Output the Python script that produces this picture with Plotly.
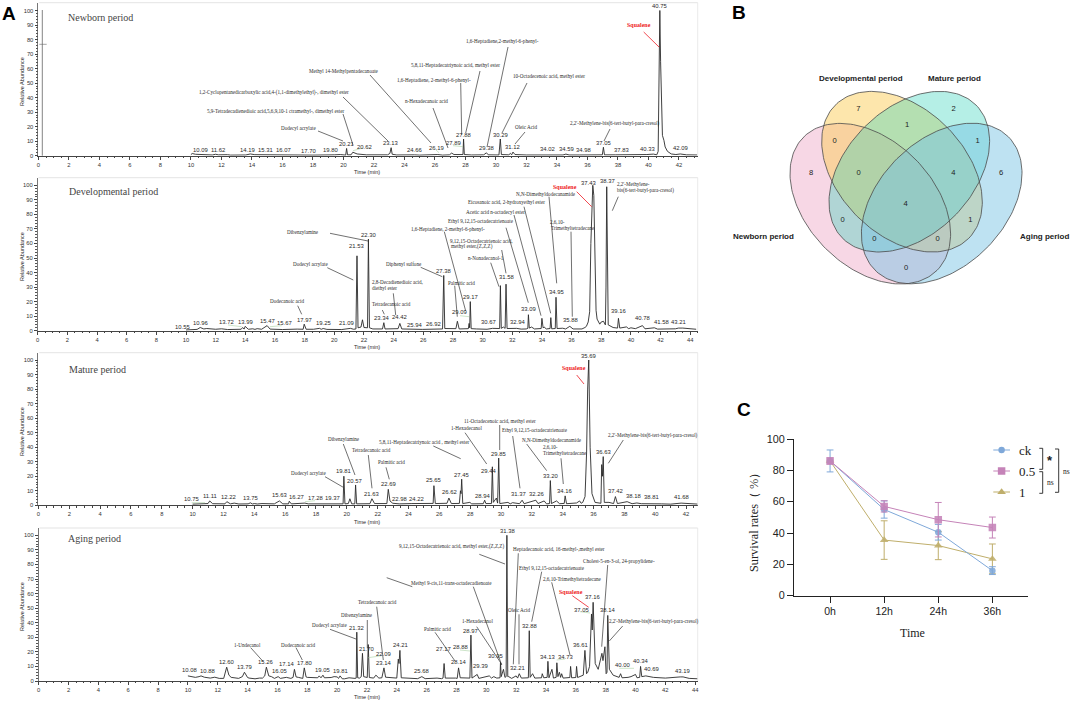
import numpy as np
import plotly.graph_objects as go

W, H = 1072, 704

# ---------- A: chromatograms (retention time, relative abundance) ----------
newborn_trace = [(10,.8),(10.09,1.5),(10.3,1),(10.8,.6),(11.4,.5),(11.62,1),(11.8,.6),(12.4,.7),(12.6,.4),(13.6,.5),(13.9,1.2),
 (14.19,.7),(14.8,.6),(15.1,.8),(15.31,1),(15.5,.5),(16.07,.7),(16.3,.4),(17.7,.6),(18,.4),(19.4,.6),(19.8,.8),(20.15,.4),(20.21,5),
 (20.27,.6),(20.5,.6),(20.62,2.4),(20.9,1.2),(21.5,.6),(22.9,.6),(23.05,1.6),(23.13,5.5),(23.2,1),(23.5,.5),(24.66,.6),(25,.4),(26.19,.8),
 (26.5,.4),(26.95,.6),(27.1,1.8),(27.25,.8),(27.8,.5),(27.84,.8),(27.88,11.5),(27.93,.8),(28.4,.5),(29.2,.6),(29.38,2),(29.5,.6),(30.2,.5),
 (30.29,11.5),(30.36,.8),(30.85,.6),(30.95,1.6),(31.03,.6),(31.12,2.5),(31.25,.8),(32,.5),(33,.5),(34.02,.7),(34.4,.5),(34.59,1.1),(34.8,.5),
 (35.5,.5),(36.98,.6),(37.05,5.8),(37.12,.6),(37.83,.6),(39,.5),(39.9,.8),(40.33,1.1),(40.55,.6),(40.64,3),(40.7,60),(40.75,100),(40.8,64.7),
 (40.85,35),(40.92,14),(41.02,10.5),(41.1,6),(41.25,3),(41.5,1.2),(41.8,.8),(42.09,1.2),(42.5,.6),(43.2,.5)]

developmental_trace = [(10,.5),(10.55,.8),(10.75,.9),(10.96,2.2),(11.2,1.2),(11.4,1.5),(12,1),(12.4,1.3),(12.8,.8),(13.72,1),(13.82,2.2),(13.92,1.1),
 (13.99,3),(14.2,1),(14.5,1.3),(14.65,.9),(14.8,1.4),(15.1,1),(15.47,3.5),(15.67,1.1),(16.5,.8),(17.5,1.1),(17.9,1),(17.97,4.5),(18.1,1),(18.6,1),
 (19,1.6),(19.12,1),(19.25,1.5),(19.5,.9),(20.5,.8),(21.09,1.6),(21.3,1),(21.46,1.2),(21.53,51.5),(21.6,2),(21.8,2.5),(21.9,7.5),(22,2.2),(22.24,2),
 (22.3,63),(22.37,2),(22.6,1.2),(23.25,1.2),(23.34,5.5),(23.42,1.2),(24.3,1.4),(24.42,5),(24.55,1.2),(25.94,.9),(26.92,.9),(27.3,1.2),(27.38,38),
 (27.45,1.5),(28.2,1.4),(28.3,6.5),(28.42,1.2),(29.04,1.4),(29.09,5),(29.13,2),(29.17,20),(29.23,1.4),(29.6,1.2),(30.3,1),(30.67,1.6),(31,1.2),(31.15,1.5),
 (31.2,31),(31.26,1.6),(31.4,2.5),(31.52,1.6),(31.58,32),(31.65,1.5),(32.3,1.6),(32.6,1.1),(32.94,1.2),(33.05,1.6),(33.09,11),(33.15,1.8),(33.3,2.5),(33.5,1.2),
 (33.95,1.5),(34,8.5),(34.08,2),(34.15,2.5),(34.3,1.2),(34.55,1.5),(34.6,9),(34.66,1.3),(34.9,1.5),(34.95,23),(35.02,1.5),(35.4,1.7),(35.6,1.2),(35.88,3),(36.1,1.2),
 (36.7,1.2),(36.9,2.2),(37,3),(37.12,6),(37.22,13),(37.3,60),(37.37,95),(37.43,100),(37.5,93),(37.57,45),(37.65,14),(37.72,8),(37.9,4.5),(38,6),(38.15,6.5),(38.28,4),
 (38.32,30),(38.37,99),(38.42,30),(38.47,4),(38.8,2.2),(39.1,1.8),(39.16,8.5),(39.25,1.8),(39.7,2.6),(39.85,1.4),(40,2),(40.3,1.4),(40.78,3.5),(40.95,1.3),(41.58,2),
 (41.8,1.1),(43,1.3),(43.21,1.8),(43.5,1.8),(44.4,1)]

mature_trace = [(10,.8),(10.75,.9),(11,1.2),(11.11,3),(11.3,1.1),(12.1,1),(12.22,2.5),(12.45,1),(12.7,1.5),(13,.9),(13.6,1),(13.75,1.7),(13.88,.9),(14,1.2),(14.2,.9),
 (14.5,1.2),(15.3,1),(15.63,3),(15.85,1),(16.22,1),(16.27,2.8),(16.4,1),(17.28,1.5),(17.5,1),(19.37,1.2),(19.7,.9),(19.76,1),(19.81,20),(19.88,1),(20.1,1.2),(20.2,4.5),(20.32,1),
 (20.52,1),(20.57,14),(20.64,1),(21.5,1.1),(21.63,4.5),(21.8,1.2),(22.6,1.2),(22.69,11),(22.8,3),(22.98,1.4),(23.4,1),(24.22,1.2),(25.5,1),(25.6,1.3),(25.65,13.5),(25.74,1.2),
 (26.5,1.4),(26.62,5),(26.78,1.2),(27.3,1.3),(27.37,10),(27.41,8),(27.45,18),(27.52,1.2),(27.98,2),(28.1,1),(28.85,1.1),(28.94,3.5),(29.02,1.2),(29.38,1.2),(29.44,26.5),(29.5,2),
 (29.7,5),(29.78,1.5),(29.85,32.5),(29.92,1.2),(30.45,2),(30.6,1),(30.75,1.8),(30.9,1.5),(31.2,1.1),(31.37,3.5),(31.5,1.1),(32.26,3.5),(32.4,1.2),(32.8,3),(32.95,1),(33.15,1.2),
 (33.2,17),(33.27,1.2),(33.6,3),(33.8,1.1),(34,1.5),(34.1,1.3),(34.16,6.5),(34.25,1.1),(34.9,1.6),(35.1,3),(35.2,1.4),(35.3,2),(35.45,6),(35.55,36),(35.62,80),(35.69,100),(35.78,40),
 (35.9,8),(36.1,2),(36.48,1.4),(36.53,28),(36.58,20),(36.63,33.5),(36.7,2),(37,2),(37.3,1.2),(37.42,6),(37.55,1.2),(38.18,2.5),(38.5,1.1),(38.81,1.6),(39.1,1.1),(40.4,1),(41,.8),(41.68,1.5),(42.8,.8)]

aging_trace = [(10,3.5),(10.3,2.8),(10.5,2.5),(10.75,3),(10.88,3.5),(11.1,2.6),(11.5,2),(11.8,2.6),(12.1,1.8),(12.4,1.8),(12.6,9.5),(12.75,4),(12.9,2.5),(13.4,1.8),(13.65,3),(13.79,6),
 (14,2.4),(14.1,2),(14.5,1.5),(14.8,2),(15,2),(15.15,3.5),(15.26,9.5),(15.42,3.5),(15.6,3),(15.8,1.8),(16.05,3),(16.2,1.8),(16.6,2.5),(16.9,1.8),(17.05,2.5),(17.14,8),(17.25,2.8),(17.4,2.5),(17.7,1.8),
 (17.8,9),(17.92,2.8),(18,2.5),(18.7,2.2),(18.8,3.5),(18.92,2.2),(19.05,4),(19.15,2.2),(19.6,2.4),(19.8,3),(20,2.8),(20.1,1.8),(20.2,3.5),(20.35,1.5),(20.5,1.5),(20.8,2.2),(21.2,1.8),(21.28,2),
 (21.32,33.5),(21.38,2.2),(21.5,2),(21.62,3),(21.7,19),(21.78,3),(22.02,2.4),(22.09,25),(22.16,2.4),(22.45,2),(22.6,4),(22.8,2),(23,2.2),(23.14,9),(23.25,2.6),(23.4,2.5),(23.7,1.8),(24,2),(24.1,15),
 (24.15,12),(24.21,21),(24.3,2.2),(25.4,1.6),(25.68,3),(25.9,1.6),(26.7,2),(27,1.6),(27.1,2),(27.17,12),(27.25,2),(27.95,2),(28.05,1.8),(28.14,9),(28.25,2.2),(28.9,2),(28.97,31.5),(29.04,2),(29.39,4.5),
 (29.5,1.8),(30.2,3.5),(30.35,2),(30.5,3),(30.7,2),(30.92,2.2),(30.95,13),(31,3),(31.15,8),(31.25,2.5),(31.33,3),(31.38,100),(31.44,3),(31.5,3),(31.7,1.8),(32,3.5),(32.1,2),(32.21,5),(32.35,2),(32.6,2),
 (32.82,2.2),(32.88,34.5),(32.94,2.5),(33.1,5),(33.25,2),(33.7,2.2),(33.75,5),(33.85,2.2),(34.08,2.5),(34.13,13.5),(34.2,2.2),(34.4,8),(34.5,2),(34.68,2.5),(34.73,12.5),(34.8,3),(34.9,6),(34.98,2.5),(35.05,5),
 (35.15,2),(35.6,2.4),(35.65,10),(35.72,2.2),(36,2.4),(36.05,10),(36.12,2.4),(36.5,4),(36.61,21),(36.72,5),(36.8,6),(36.92,10),(37.05,46),(37.1,35),(37.16,54),(37.25,18),(37.3,12),(37.5,8),(37.65,14),(37.75,19),
 (37.82,14),(37.95,23.5),(38.03,5),(38.09,6),(38.14,45),(38.2,10),(38.25,8),(38.5,4),(38.9,2.5),(39,5),(39.1,2.2),(39.5,2.5),(39.7,3),(40,4.5),(40.1,2.2),(40.28,2.5),(40.34,10),(40.42,3),(40.69,3.5),(41.2,2.5),
 (42,2),(43,2.8),(43.19,2.8),(43.6,1.8),(44.2,1.5)]

# retention-time labels printed on each chromatogram
newborn_rt = ["10.09","11.62","14.19","15.31","16.07","17.70","19.80","20.21","20.62","23.13","24.66","26.19","27.89","27.88","29.38","30.29","31.12","34.02","34.59","34.98","37.05","37.83","40.33","40.75","42.09"]
developmental_rt = ["10.55","10.96","13.72","13.99","15.47","15.67","17.97","19.25","21.09","21.53","22.30","23.34","24.42","25.94","26.92","27.38","29.09","29.17","30.67","31.58","32.94","33.09","34.95","35.88","37.43","38.37","39.16","40.78","41.58","43.21"]
mature_rt = ["10.75","11.11","12.22","13.75","15.63","16.27","17.28","19.37","19.81","20.57","21.63","22.69","22.98","24.22","25.65","26.62","27.45","28.94","29.44","29.85","31.37","32.26","33.20","34.16","35.69","36.63","37.42","38.18","38.81","41.68"]
aging_rt = ["10.08","10.88","12.60","13.79","15.26","16.05","17.14","17.80","19.05","19.81","21.32","21.70","22.09","23.14","24.21","25.68","27.17","28.14","28.88","28.97","29.39","30.95","31.38","32.21","32.88","34.13","34.73","36.61","37.05","37.16","38.14","40.00","40.34","40.69","43.19"]

# compound names
newborn_compounds = ["Methyl 14-Methylpentadecanoate","1,2-Cyclopentanedicarboxylic acid,4-(1,1-dimethylethyl)-, dimethyl ester","5,9-Tetradecadienedioic acid,5,6,9,10-1 ctramethyl-, dimethyl ester","Dodecyl acrylate",
 "1,6-Heptadiene,2-methyl-6-phenyl-","5,8,11-Heptadecatriynoic acid, methyl ester","1,6-Heptadiene, 2-methyl-6-phenyl-","n-Hexadecanoic acid","10-Octadecenoic acid, methyl ester","Oleic Acid","2,2'-Methylene-bis(6-tert-butyl-para-cresol)"]
developmental_compounds = ["Dibenzylamine","Dodecyl acrylate","Dodecanoic acid","N,N-Dimethyldodecanamide","2,2'-Methylene-","bis(6-tert-butyl-para-cresol)","Eicosanoic acid, 2-hydroxyethyl ester","Acetic acid n-octadecyl ester",
 "Ethyl 9,12,15-octadecatrienoate","2,6,10-","Trimethyltetradecane","1,6-Heptadiene, 2-methyl-6-phenyl-","9,12,15-Octadecatrienoic acid,","methyl ester,(Z,Z,Z)","n-Nonadecanol-1","Diphenyl sulfone","2,8-Decadienedioic acid,","diethyl ester","Palmitic acid","Tetradecanoic acid"]
mature_compounds = ["Dibenzylamine","Dodecyl acrylate","Tetradecanoic acid","5,8,11-Heptadecatriynoic acid , methyl ester","Palmitic acid","1-Hexadecanol","11-Octadecenoic acid, methyl ester","Ethyl 9,12,15-octadecatrienoate","N,N-Dimethyldodecanamide","2,6,10-","Trimethyltetradecane","2,2'-Methylene-bis(6-tert-butyl-para-cresol)"]
aging_compounds = ["1-Undecanol","Dodecanoic acid","Dodecyl acrylate","Dibenzylamine","Tetradecanoic acid","9,12,15-Octadecatrienoic acid, methyl ester,(Z,Z,Z)","Heptadecanoic acid, 16-methyl-,methyl ester","Ethyl 9,12,15-octadecatrienoate","Cholest-5-en-3-ol, 24-propylidene-","2,6,10-Trimethyltetradecane","Methyl 9-cis,11-trans-octadecadienoate","Oleic Acid","1-Hexadecanol","Palmitic acid","2,2'-Methylene-bis(6-tert-butyl-para-cresol)"]
period_names = ["Newborn period","Developmental period","Mature period","Aging period"]

# ---------- B: Venn ----------
venn_sets = ["Newborn period","Developmental period","Mature period","Aging period"]
venn_counts = [7,2,0,1,1,8,0,4,6,4,0,1,0,0,0]

# ---------- C: survival ----------
hours = [0,12,24,36]
hour_labels = ["0h","12h","24h","36h"]
ck_mean = [86,55,40.5,16]
ck_err = [7,5.5,5,2.5]
half_mean = [86,57,48.5,43.5]
half_err = [2,3.6,11,6.7]
one_mean = [86,35.5,32,23.5]
one_err = [.5,12.3,9,9.5]
group_names = ["ck","0.5","1"]

# ---------- layout geometry (pixels) ----------
panel_geom = [  # left, per-minute, y of 0, y of 100, frame top
    (38.4,15.25,155.7,10.5,2.7),
    (37.7,14.83,330.7,185.3,177.7),
    (38.4,15.42,505.3,360.0,352.7),
    (38.7,14.92,681.0,535.3,528.0)]
RIGHT = 697.7

rt_label_pos = [
 [(10.64,4.1),(11.8,3.9),(13.68,4),(14.9,3.9),(16.09,4.2),(17.7,3.5),(19.13,3.7),(20.2,7.8),(21.41,6),(23.11,8.5),(24.67,3.9),(26.11,5),(27.2,9),(27.9,14.4),(29.41,5.5),(30.28,14.4),(31.11,6.2),(33.4,4.4),(34.6,4.8),(35.75,3.7),(37.06,9),(38.26,4.1),(39.92,4.4),(40.75,103),(42.1,5.3)],
 [(9.75,2.8),(10.97,5.3),(12.76,5.7),(14.02,6.2),(15.48,6.9),(16.67,5),(17.98,7.6),(19.26,5),(20.83,5),(21.53,58),(22.29,66),(23.17,9),(24.39,9.2),(25.4,4.1),(26.66,4.4),(27.38,41.3),(28.46,12.6),(29.18,23.4),(30.4,5.7),(31.6,36.7),(32.34,6),(33.1,14.7),(34.97,26.8),(35.9,7.6),(37.16,101.4),(38.42,103),(39.18,13.3),(40.8,8.5),(42.05,6),(43.24,6)],
 [(9.95,4.4),(11.11,6.2),(12.3,6),(13.77,5),(15.63,6.9),(16.76,6),(17.97,5),(19.09,5),(19.81,23.4),(20.48,17),(21.63,7.8),(22.69,14.4),(23.43,4.6),(24.55,4.4),(25.65,17.4),(26.63,8.9),(27.43,21),(28.77,6.6),(29.16,23.9),(29.85,35.5),(31.12,7.6),(32.27,7.8),(33.22,20.2),(34.15,10),(35.69,103),(36.64,36.5),(37.44,9.6),(38.58,6.4),(39.75,5.7),(41.68,6)],
 [(10.08,7.3),(11.3,6.9),(12.58,13),(13.79,9.4),(15.22,12.8),(16.13,6.6),(16.58,11.4),(17.79,12.4),(19.02,7.5),(20.2,7),(21.33,36.6),(21.98,22),(23.12,18.8),(23.14,12.1),(24.23,24.5),(25.66,6.6),(27.12,21.7),(28.15,12.8),(28.26,23),(28.97,34),(29.64,10.5),(30.6,17),(31.39,103),(32.1,9),(32.88,38),(34.11,16.7),(35.34,16.2),(36.3,24.5),(36.41,49),(37.15,57.7),(38.13,49),(39.1,10.8),(40.33,13.5),(41.04,8.2),(43.14,7)]]

compound_pos = [
 [(309.3,71.3),(199,92.7),(207.3,111),(281,128),(465.7,41.3),(410.7,65.3),(397,79.7),(405.3,101.3),(513,76),(515,126.7),(570,123.7)],
 [(286.7,232),(293.3,264.3),(270,300.7),(515.7,193.7),(616.7,184.3),(616.7,190.7),(468.3,202.3),(465.7,212.3),(447.7,221),(550,222.3),(550.7,228.3),(410.7,229.3),(450,241),(451,246.7),(467.7,258),(386,264.3),(372.3,282.3),(372.3,288.3),(447.7,282.7),(371.7,304.3)],
 [(327.7,439.3),(291,472.7),(351.7,450.3),(378.7,442.3),(378.3,462),(451.3,427.7),(464,420.7),(502.3,430.3),(522,440.3),(543.3,446.7),(543.3,453.3),(608.3,435.7)],
 [(234,645),(281,645),(311.7,625),(340.7,614.7),(357.7,602.3),(399.3,546.3),(513,548.7),(518.7,567.7),(583.3,560.7),(542.7,579),(410.7,582.7),(508,610),(462,621),(424,629),(609.3,621.3)]]
squalene_pos = [(626.7,24.7),(552.7,187.3),(562,368.3),(559.3,592)]
period_pos = [(68,17),(68.7,191.3),(68.7,369.7),(68.3,538.7)]
axis_label_y = [172,347,522,697]
ylabel_y = [82,257,432,607]

leaders = [
 (318,131,343,141),(343,114,353,145),(343,97,388,141),(370,75,431,143),(433,108,448,148),(460.7,83,461.7,135),(480,71,465.7,133),(508,47,487,147),(527,83,502,133),(525,132,515,144),(610,129,604,141),
 (330,233.3,368,241),(327.3,267.7,353.3,280),(297.7,305.7,301.7,314.3),(618.3,196.7,612.3,210.7),(549,196.7,556.7,283.3),(571,231.7,572.3,316.7),(524,206.7,550.7,313.3),(514,215,541,315.7),(506,227.7,528.3,302.7),(444.3,231.7,465.7,311),(501.7,250,506,273.3),(490.7,262.7,499,286.7),(420.7,267.3,442.3,276.7),(454.7,285.7,457.3,316.7),(393.3,293.3,395.7,315),(382.3,310,384.3,314.3),
 (325,476.7,343.3,487.3),(343.3,444,355,475),(368.3,455,372,488.3),(386,467.3,389.3,479.3),(433.3,446,460.7,458.7),(465,432.7,486.7,464),(499.7,425,499.7,450),(512.7,436,520,488.3),(526.7,444,546.7,470.7),(561,458.3,563.3,484),(623.3,440,608.3,463.3),
 (250.7,647.7,263.3,661.7),(296,647.7,302.3,660),(330,629.3,356,639),(367.3,620,367.3,648.3),(376.7,606.7,383.3,660),(386.7,577.7,412.3,586.7),(473.3,586.7,501.7,665),(479.3,554.3,505,564),(518.3,553.3,513.3,664.3),(541.7,571.7,531.7,621.7),(519,614.3,519,664.3),(551.7,582.3,570,655),(607.7,565,601.7,646.7),(622.7,626,609.3,641),(476.7,626.7,501.7,664.3),(435,632.3,455,661)]
red_leaders = [(643.7,32,659,47),(576.7,191.7,591.7,206.7),(576.7,375,584,384),(572.3,595.7,588.7,607.3)]
green_leaders = [(353,150.7,363,148),(436,150,439,152.7),(453,145.7,463,146.7),(228,325,241.7,326.7),(270,326.7,281.7,325.7),(460,315.7,469,316.7),(191.7,502.7,205,502.7),(305,501.7,315,500.7),(368.3,657.7,381.7,655.7),(460,650,470,651),(556.7,660,565,659),(580,611.7,590,613),(619.3,668.3,634,668.3)]

def fx(p): return p / W
def fy(p): return 1 - p / H

fig = go.Figure()
shapes, notes = [], []

def text(x, y, s, size, family="Liberation Serif", color="#2a2a2a", anchor="left", bold=False, angle=0):
    notes.append(dict(xref="paper", yref="paper", x=fx(x), y=fy(y), text=f"<b>{s}</b>" if bold else s, showarrow=False,
                      xanchor=anchor, yanchor="middle", align="left", textangle=angle, borderpad=0, borderwidth=0,
                      font=dict(size=size, family=family, color=color)))

def seg(x0, y0, x1, y1, color, width):
    shapes.append(dict(type="line", xref="paper", yref="paper", x0=fx(x0), y0=fy(y0), x1=fx(x1), y1=fy(y1),
                       line=dict(color=color, width=width)))

traces = [newborn_trace, developmental_trace, mature_trace, aging_trace]
rts = [newborn_rt, developmental_rt, mature_rt, aging_rt]
comps = [newborn_compounds, developmental_compounds, mature_compounds, aging_compounds]
layout = {}
for i, (left, pm, y0, y100, top) in enumerate(panel_geom):
    n = "" if i == 0 else str(i + 1)
    t, v = zip(*traces[i])
    fig.add_trace(go.Scatter(x=t, y=v, mode="lines", name=period_names[i], xaxis=f"x{n}", yaxis=f"y{n}",
                             line=dict(color="#2a2a2a", width=0.9), showlegend=False))
    ppu = (y0 - y100) / 100
    layout[f"xaxis{n}"] = dict(domain=[fx(left), fx(RIGHT)], range=[0, (RIGHT - left) / pm], anchor=f"y{n}", tick0=0, dtick=2,
        ticks="outside", ticklen=3, tickwidth=.7, tickcolor="#444", showline=True, linecolor="#444", linewidth=.8, showgrid=False, zeroline=False,
        tickfont=dict(size=5.8, family="Liberation Sans", color="#333"), tickangle=0,
        minor=dict(dtick=.5, ticks="outside", ticklen=1.5, tickwidth=.5, tickcolor="#444", showgrid=False))
    layout[f"yaxis{n}"] = dict(domain=[fy(y0), fy(top)], range=[0, (y0 - top) / ppu], anchor=f"x{n}", tick0=0, dtick=10,
        tickvals=list(range(0, 101, 10)), ticks="outside", ticklen=3, tickwidth=.7, tickcolor="#444", showline=True, linecolor="#777", linewidth=.8, showgrid=False, zeroline=False,
        tickfont=dict(size=5.8, family="Liberation Sans", color="#333"),
        minor=dict(tickvals=[k for k in range(0, 101, 2) if k % 10], ticks="outside", ticklen=1.5, tickwidth=.4, tickcolor="#555", showgrid=False))
    seg(left + .8, top, RIGHT, top, "#dcdcdc", .8)
    seg(RIGHT, top, RIGHT, y0, "#e4e4e4", .8)
    for s, (tx, vy) in zip(rts[i], rt_label_pos[i]):
        notes.append(dict(xref=f"x{n}", yref=f"y{n}", x=tx, y=vy, text=s, showarrow=False, xanchor="center", yanchor="middle", borderpad=0, borderwidth=0,
                          font=dict(size=5.9, family="Liberation Sans", color="#2a2a2a")))
    for s, (px, py) in zip(comps[i], compound_pos[i]):
        text(px, py, s, 5.1)
    text(*squalene_pos[i], "Squalene", 6, color="#ee1c25", bold=True)
    text(*period_pos[i], period_names[i], 10, color="#444")
    text(22, ylabel_y[i], "Relative Abundance", 5.5, family="Liberation Sans", anchor="center", angle=-90)
    text(367, axis_label_y[i], "Time (min)", 5.5, family="Liberation Sans", anchor="center")

# injection marker drawn in the first chromatogram only
seg(42.3, 10, 42.3, 155.7, "#666", .8)
seg(39.3, 44.3, 46.7, 44.3, "#666", .6)

for l in leaders: seg(*l, "#333333", .7)
for l in red_leaders: seg(*l, "#ee1c25", .8)
for l in green_leaders: seg(*l, "#aad2a2", .6)

text(2, 13.5, "A", 19, family="Liberation Sans", color="#000", bold=True)
text(732, 13, "B", 19, family="Liberation Sans", color="#000", bold=True)
text(737, 409, "C", 19, family="Liberation Sans", color="#000", bold=True)

# ---------- overlay axes in page pixels (Venn outlines, legend keys) ----------
layout["xaxis6"] = dict(domain=[0, 1], range=[0, W], visible=False, anchor="y6", fixedrange=True)
layout["yaxis6"] = dict(domain=[0, 1], range=[H, 0], visible=False, anchor="x6", fixedrange=True)

venn_geom = [  # centre x, centre y, direction of long axis, fill
    (870.3, 203.7,  1, "rgba(236,160,192,0.42)"),
    (902.0, 171.7,  1, "rgba(252,205,90,0.50)"),
    (909.3, 171.7, -1, "rgba(50,210,185,0.36)"),
    (941.7, 203.5, -1, "rgba(120,195,228,0.48)")]
phi = np.linspace(0, 2 * np.pi, 181)
outlines = []
for idx, (cx, cy, sgn, col) in enumerate(venn_geom):
    u, w = 94.3 * np.cos(phi), 63.3 * np.sin(phi)
    ex = cx + (u - w) / np.sqrt(2)
    ey = cy + sgn * (u + w) / np.sqrt(2)
    fig.add_trace(go.Scatter(x=ex, y=ey, mode="lines", fill="toself", fillcolor=col, name=venn_sets[idx], xaxis="x6", yaxis="y6",
                             line=dict(width=0), showlegend=False, hoverinfo="name"))
    outlines.append((ex, ey))
for ex, ey in outlines:
    fig.add_trace(go.Scatter(x=ex, y=ey, mode="lines", xaxis="x6", yaxis="y6", line=dict(color="#4a4a4a", width=.8), showlegend=False, hoverinfo="skip"))

venn_count_pos = [(858.3,109.3),(953.7,109.3),(834.7,141),(907,125.3),(977.7,141),(811,173),(858.7,173),(953.3,173),(1001,173),(905.7,204.3),(842.7,220.3),(970.3,220.3),(874.3,239.3),(937.7,239.3),(906,267.7)]
fig.add_trace(go.Scatter(x=[p[0] for p in venn_count_pos], y=[p[1] for p in venn_count_pos], mode="text",
                         text=[str(c) for c in venn_counts], textposition="middle center", xaxis="x6", yaxis="y6",
                         textfont=dict(size=7.6, family="Liberation Sans", color="#222"), showlegend=False, hoverinfo="skip"))
text(733.3, 236, venn_sets[0], 8, family="Liberation Sans", color="#222", bold=True)
text(819, 78, venn_sets[1], 8, family="Liberation Sans", color="#222", bold=True)
text(928, 78, venn_sets[2], 8, family="Liberation Sans", color="#222", bold=True)
text(1020, 236, venn_sets[3], 8, family="Liberation Sans", color="#222", bold=True)

# ---------- C ----------
styles = [("#7fa8d9", "circle", 6.5), ("#c583b8", "square", 7.5), ("#bfae6b", "triangle-up", 7.5)]
series = [(one_mean, one_err, 2), (ck_mean, ck_err, 0), (half_mean, half_err, 1)]
for mean, err, k in series:
    col, sym, sz = styles[k]
    fig.add_trace(go.Scatter(x=hours, y=mean, mode="lines+markers", name=group_names[k], xaxis="x5", yaxis="y5",
                             error_y=dict(type="data", array=err, color=col, thickness=1, width=3.4),
                             line=dict(color=col, width=1), marker=dict(color=col, symbol=sym, size=sz, opacity=.88), showlegend=False))
layout["xaxis5"] = dict(domain=[fx(794), fx(1028)], range=[-8, 43.9], anchor="y5", tickvals=hours, ticktext=hour_labels, ticks="outside", ticklen=6,
    tickwidth=1, tickcolor="#222", showline=True, linecolor="#222", linewidth=1, showgrid=False, zeroline=False,
    tickfont=dict(size=10.5, family="Liberation Sans", color="#222"))
layout["yaxis5"] = dict(domain=[fy(595.7), fy(439)], range=[0, 100], anchor="x5", tickvals=[0,20,40,60,80,100], ticks="outside", ticklen=6,
    tickwidth=1, tickcolor="#222", showline=True, linecolor="#222", linewidth=1, showgrid=False, zeroline=False,
    tickfont=dict(size=10.8, family="Liberation Sans", color="#222"))
text(912, 632.7, "Time", 12, anchor="center", color="#222")
text(754, 520, "Survival rates（ %）", 12.3, anchor="center", angle=-90, color="#222")

key_y = [450, 471, 492]
for k, ky in enumerate(key_y):
    col, sym, sz = styles[k]
    fig.add_trace(go.Scatter(x=[993.3, 1001.6, 1010], y=[ky, ky, ky], mode="lines", xaxis="x6", yaxis="y6",
                             line=dict(color=col, width=1), showlegend=False, hoverinfo="skip"))
    fig.add_trace(go.Scatter(x=[1001.6], y=[ky], mode="markers", xaxis="x6", yaxis="y6",
                             marker=dict(color=col, symbol=sym, size=sz), showlegend=False, hoverinfo="skip"))
    text(1019, ky, group_names[k], 13, color="#222")

for (xa, xb, ya, yb) in [(1039.3,1042.7,448.3,469.3),(1039.3,1042.7,471.7,493.3),(1055,1058.7,449,492.3)]:
    seg(xa, ya, xb, ya, "#222", .9); seg(xb, ya, xb, yb, "#222", .9); seg(xb, yb, xa, yb, "#222", .9)
text(1050, 460, "*", 13, family="Liberation Sans", anchor="center", color="#222", bold=True)
text(1050.3, 482.3, "ns", 7.5, anchor="center", color="#222")
text(1066.7, 471.7, "ns", 7.5, anchor="center", color="#222")

fig.update_layout(width=W, height=H, margin=dict(l=0, r=0, t=0, b=0, pad=0, autoexpand=False), autosize=False, paper_bgcolor="white", plot_bgcolor="rgba(0,0,0,0)",
                  showlegend=False, shapes=shapes, annotations=notes, **layout)
fig.write_html("out.html", post_script="document.body.style.margin='0';", config={"displayModeBar": False})
